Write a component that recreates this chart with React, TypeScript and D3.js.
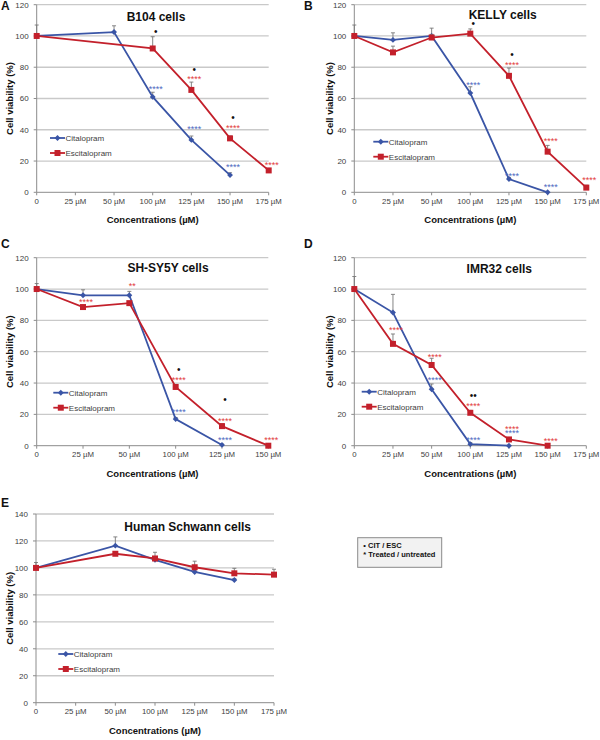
import * as d3 from 'd3';

const CIT = '#3a55a6';
const ESC = '#c3202b';
const CIT_NOTE = '#4b68c0';
const ESC_NOTE = '#e23b3b';
const FONT = '"Liberation Sans", Arial, sans-serif';

// category labels
const conc7 = ['0', '25 µM', '50 µM', '100 µM', '125 µM', '150 µM', '175 µM'];
const conc6 = conc7.slice(0, 6);

// A - B104
const citA = [100, null, 102.5, 61, 33.5, 11, null];
const escA = [100, null, null, 92, 65.5, 34.5, 14];
const citErrA = [7, 0, 4, 3, 2.5, 1.5, 0];
const escErrA = [0, 0, 0, 7.5, 5, 1.5, 1];

// B - KELLY
const citB = [100, 97.5, 100, 63.5, 8.5, 0, null];
const escB = [100, 89.5, 99, 101.5, 74.5, 26, 3];
const citErrB = [7, 4.5, 5, 4, 1, 0, 0];
const escErrB = [0, 4, 2, 3, 5, 4, 1.5];

// C - SH-SY5Y
const citC = [100, 96, 96, 17, 0.5, null];
const escC = [100, 88.5, 91, 37.5, 12.5, 0];
const citErrC = [3.5, 3.5, 2.5, 1, 0.5, 0];
const escErrC = [1, 1, 1, 1.5, 1.5, 0];

// D - IMR32
const citD = [100, 85, 36, 1, 0, null, null];
const escD = [100, 65, 51.5, 21, 4, 0, null];
const citErrD = [8, 11.6, 3.4, 1, 0, 0, 0];
const escErrD = [0, 6.3, 4.3, 1.5, 1, 0, 0];

// E - Human Schwann
const citE = [100, null, 116.5, 106, 97, 91, null];
const escE = [100, null, 110.5, 107, 100.5, 96, 95];
const citErrE = [4, 0, 6.5, 2, 1, 1, 0];
const escErrE = [0, 0, 1, 4.6, 4.5, 3.7, 4];

type Note = { i: number; v: number; t: string; s: 'dot' | 'cit' | 'esc' };

// significance marks: category index, value level, text
const notesA: Note[] = [
  { i: 3, v: 102.7, t: '•', s: 'dot' },
  { i: 4, v: 78.2, t: '•', s: 'dot' },
  { i: 5, v: 47.5, t: '•', s: 'dot' },
  { i: 4, v: 74, t: '****', s: 'esc' },
  { i: 5, v: 42.4, t: '****', s: 'esc' },
  { i: 6, v: 18.7, t: '****', s: 'esc' },
  { i: 3, v: 67.4, t: '****', s: 'cit' },
  { i: 4, v: 41.8, t: '****', s: 'cit' },
  { i: 5, v: 17.5, t: '****', s: 'cit' },
];
const notesB: Note[] = [
  { i: 3, v: 108, t: '•', s: 'dot' },
  { i: 4, v: 88.3, t: '•', s: 'dot' },
  { i: 4, v: 83, t: '****', s: 'esc' },
  { i: 5, v: 34, t: '****', s: 'esc' },
  { i: 6, v: 9, t: '****', s: 'esc' },
  { i: 3, v: 70, t: '****', s: 'cit' },
  { i: 4, v: 12, t: '****', s: 'cit' },
  { i: 5, v: 4.5, t: '****', s: 'cit' },
];
const notesC: Note[] = [
  { i: 2, v: 103.6, t: '**', s: 'esc' },
  { i: 1, v: 93, t: '****', s: 'esc' },
  { i: 3, v: 48.8, t: '•', s: 'dot' },
  { i: 3, v: 43.6, t: '****', s: 'esc' },
  { i: 3, v: 22.8, t: '****', s: 'cit' },
  { i: 4, v: 29.6, t: '•', s: 'dot' },
  { i: 4, v: 17, t: '****', s: 'esc' },
  { i: 4, v: 5.3, t: '****', s: 'cit' },
  { i: 5, v: 5.3, t: '****', s: 'esc' },
];
const notesD: Note[] = [
  { i: 1, v: 75, t: '****', s: 'esc' },
  { i: 2, v: 58.3, t: '****', s: 'esc' },
  { i: 2, v: 43.2, t: '****', s: 'cit' },
  { i: 3, v: 31.7, t: '••', s: 'dot' },
  { i: 3, v: 26.6, t: '****', s: 'esc' },
  { i: 3, v: 5.3, t: '****', s: 'cit' },
  { i: 4, v: 12.1, t: '****', s: 'esc' },
  { i: 4, v: 9.2, t: '****', s: 'cit' },
  { i: 5, v: 4.7, t: '****', s: 'esc' },
];

const titles = ['B104 cells', 'KELLY cells', 'SH-SY5Y cells', 'IMR32 cells', 'Human Schwann cells'];
const panelLetters = ['A', 'B', 'C', 'D', 'E'];
const yMaxes = [120, 120, 120, 120, 140];
const seriesNames = ['Citalopram', 'Escitalopram'];

const panels = [
  { cats: conc7, cit: citA, esc: escA, citErr: citErrA, escErr: escErrA, notes: notesA },
  { cats: conc7, cit: citB, esc: escB, citErr: citErrB, escErr: escErrB, notes: notesB },
  { cats: conc6, cit: citC, esc: escC, citErr: citErrC, escErr: escErrC, notes: notesC },
  { cats: conc7, cit: citD, esc: escD, citErr: citErrD, escErr: escErrD, notes: notesD },
  { cats: conc7, cit: citE, esc: escE, citErr: citErrE, escErr: escErrE, notes: [] as Note[] },
];

// pixel layout of each panel
const layouts = [
  { x0: 36.7, x1: 268.7, top: 4.7, bot: 192.3, lx: 1, ly: 10, tx: 156, ty: 21, gx: 50, gy: 138, yt: 13 },
  { x0: 354.3, x1: 586.3, top: 4.7, bot: 192.3, lx: 304, ly: 10, tx: 502.7, ty: 19, gx: 373.3, gy: 141.7, yt: 333 },
  { x0: 36.7, x1: 268.3, top: 257.7, bot: 445.7, lx: 1, ly: 248, tx: 168, ty: 271.5, gx: 53.3, gy: 392.7, yt: 13 },
  { x0: 354.3, x1: 586.3, top: 257.7, bot: 445.7, lx: 304, ly: 248, tx: 499.3, ty: 273, gx: 361.7, gy: 391.7, yt: 333 },
  { x0: 36, x1: 274, top: 514, bot: 702.7, lx: 1, ly: 507, tx: 187.7, ty: 530.5, gx: 58.3, gy: 654, yt: 13 },
];

const diamond = d3.symbol(d3.symbolDiamond2, 22)() as string;
const square = d3.symbol(d3.symbolSquare, 36)() as string;

function Panel({ k }: { k: number }) {
  const p = panels[k];
  const l = layouts[k];
  const yMax = yMaxes[k];
  const x = d3.scalePoint<string>().domain(p.cats).range([l.x0, l.x1]);
  const y = d3.scaleLinear().domain([0, yMax]).range([l.bot, l.top]);
  const ticks = d3.range(0, yMax + 1, 20);
  const line = d3
    .line<{ c: string; v: number }>()
    .x((d) => x(d.c)!)
    .y((d) => y(d.v));

  const series = [
    { vals: p.cit, err: p.citErr, color: CIT, mark: diamond },
    { vals: p.esc, err: p.escErr, color: ESC, mark: square },
  ].map((s) => ({
    ...s,
    pts: s.vals
      .map((v, i) => ({ c: p.cats[i], v: v as number, e: s.err[i] }))
      .filter((d, i) => s.vals[i] !== null),
  }));

  const noteColor = { dot: '#111', cit: CIT_NOTE, esc: ESC_NOTE };

  return (
    <g fontFamily={FONT}>
      {ticks.slice(1).map((t) => (
        <line key={t} x1={l.x0} x2={l.x1} y1={y(t)} y2={y(t)} stroke="#c9c9c9" strokeWidth={1.3} />
      ))}
      <line x1={l.x0} x2={l.x0} y1={l.top} y2={l.bot} stroke="#8c8c8c" strokeWidth={1} />
      <line x1={l.x0} x2={l.x1} y1={l.bot} y2={l.bot} stroke="#8c8c8c" strokeWidth={1} />
      {ticks.map((t) => (
        <g key={t}>
          <line x1={l.x0 - 3} x2={l.x0} y1={y(t)} y2={y(t)} stroke="#8c8c8c" />
          <text x={l.x0 - 8} y={y(t) + 2.8} fontSize={8} fill="#404040" textAnchor="end">
            {t}
          </text>
        </g>
      ))}
      {p.cats.map((c) => (
        <g key={c}>
          <line x1={x(c)} x2={x(c)} y1={l.bot} y2={l.bot + 3} stroke="#8c8c8c" />
          <text x={x(c)} y={l.bot + 11.5} fontSize={7.8} fill="#404040" textAnchor="middle">
            {c}
          </text>
        </g>
      ))}
      <text
        x={(l.x0 + l.x1) / 2}
        y={l.bot + 31}
        fontSize={9.5}
        fontWeight="bold"
        fill="#111"
        textAnchor="middle"
      >
        Concentrations (µM)
      </text>
      <text
        transform={`translate(${l.yt},${(l.top + l.bot) / 2}) rotate(-90)`}
        fontSize={9.5}
        fontWeight="bold"
        fill="#111"
        textAnchor="middle"
      >
        Cell viability (%)
      </text>
      <text x={l.lx} y={l.ly} fontSize={12} fontWeight="bold" fill="#111">
        {panelLetters[k]}
      </text>
      <text x={l.tx} y={l.ty} fontSize={12} fontWeight="bold" fill="#111" textAnchor="middle">
        {titles[k]}
      </text>

      {series.map((s, si) => (
        <g key={si}>
          {s.pts
            .filter((d) => d.e > 0)
            .map((d) => (
              <g key={d.c} stroke="#777" strokeWidth={0.9}>
                <line x1={x(d.c)} x2={x(d.c)} y1={y(d.v)} y2={y(d.v + d.e)} />
                <line x1={x(d.c)! - 2} x2={x(d.c)! + 2} y1={y(d.v + d.e)} y2={y(d.v + d.e)} />
              </g>
            ))}
          <path d={line(s.pts) ?? ''} fill="none" stroke={s.color} strokeWidth={1.8} />
          {s.pts.map((d) => (
            <path key={d.c} d={s.mark} transform={`translate(${x(d.c)},${y(d.v)})`} fill={s.color} />
          ))}
        </g>
      ))}

      {p.notes.map((n, i) => (
        <text
          key={i}
          x={x(p.cats[n.i])! + 3}
          y={y(n.v) + (n.s === 'dot' ? 3.3 : 5.2)}
          fontSize={n.s === 'dot' ? 10 : 9}
          fill={noteColor[n.s]}
          textAnchor="middle"
        >
          {n.t}
        </text>
      ))}

      {series.map((s, si) => (
        <g key={si} transform={`translate(${l.gx},${l.gy + si * 15})`}>
          <line x1={0} x2={15} y1={0} y2={0} stroke={s.color} strokeWidth={1.8} />
          <path d={s.mark} transform="translate(7.5,0)" fill={s.color} />
          <text x={15.5} y={2.9} fontSize={8} fill="#404040">
            {seriesNames[si]}
          </text>
        </g>
      ))}
    </g>
  );
}

export default function App() {
  return (
    <svg
      width={600}
      height={740}
      style={{ position: 'absolute', left: 0, top: 0, background: '#fff' }}
    >
      <rect width={600} height={740} fill="#fff" />
      {panels.map((_, k) => (
        <Panel key={k} k={k} />
      ))}
      <g fontFamily={FONT} fontWeight="bold" fontSize={7.5} fill="#111">
        <rect x={357.7} y={537.7} width={84} height={29.6} fill="#f2f2f2" stroke="#8a8a8a" strokeWidth={1} />
        <text x={363.3} y={547.7}>• CIT / ESC</text>
        <text x={363.3} y={557}>* Treated / untreated</text>
      </g>
    </svg>
  );
}
